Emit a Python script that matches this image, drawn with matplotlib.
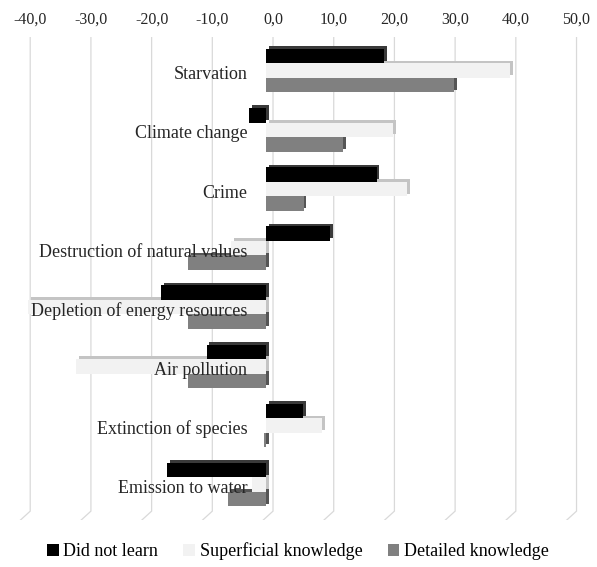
import numpy as np
import matplotlib.pyplot as plt
from matplotlib.patches import Patch

plt.rcParams.update({"font.family": ["Liberation Serif", "DejaVu Serif"]})

categories = [
    "Starvation",
    "Climate change",
    "Crime",
    "Destruction of natural values",
    "Depletion of energy resources",
    "Air pollution",
    "Extinction of species",
    "Emission to water",
]
did_not_learn = [19.4, -2.8, 18.2, 10.5, -17.3, -9.8, 6.1, -16.3]
superficial = [40.2, 20.9, 23.3, -5.8, -39.2, -31.3, 9.2, -2.3]
detailed = [31.0, 12.7, 6.2, -12.8, -12.8, -12.8, -0.4, -6.3]
ticks = np.arange(-40, 51, 10)

series = [
    ("Did not learn", did_not_learn, "#000000", "#3a3a3a"),
    ("Superficial knowledge", superficial, "#f2f2f2", "#c4c4c4"),
    ("Detailed knowledge", detailed, "#808080", "#555555"),
]

W, H = 597, 567
fig = plt.figure(figsize=(W / 100, H / 100), dpi=100)
ax = fig.add_axes([8 / W, 1 - 520 / H, (590 - 8) / W, (520 - 37) / H])

ax.set_xlim(-43.66, 52.22)
ax.set_ylim(7.6, -0.57)

y = np.arange(len(categories))
h = 0.245
front = -1.15          # front faces sit a little in front of the back wall
dx, dy = 0.45, 0.045   # visible depth faces
for k, (name, vals, face, side) in enumerate(series):
    yk = y + (k - 1) * h
    vals = np.array(vals)
    ax.barh(yk - dy, vals, height=h, left=front + dx, color=side, zorder=2)
    ax.barh(yk, vals, height=h, left=front, color=face, zorder=3)

for i, c in enumerate(categories):
    ax.text(front - 3.1, i + 0.07, c, ha="right", va="center", fontsize=13,
            color="#262626", zorder=5)

ax.set_xticks(ticks)
ax.set_xticklabels([f"{t:.1f}".replace(".", ",") for t in ticks],
                   fontsize=11.5, color="#262626")
ax.xaxis.tick_top()
ax.tick_params(axis="x", length=0, pad=7)
ax.set_yticks([])
for t in ticks:
    ax.plot([t, t, t - 1.6], [-0.57, 7.45, 7.6], color="#d9d9d9",
            linewidth=0.9, zorder=0, solid_joinstyle="miter")
for s in ax.spines.values():
    s.set_visible(False)

handles = [Patch(facecolor=f, edgecolor="none", label=n) for n, _, f, _ in series]
fig.legend(handles=handles, loc="center", bbox_to_anchor=(0.499, 1 - 551 / H),
           ncol=3, frameon=False, fontsize=13, handlelength=0.65,
           handleheight=0.65, handletextpad=0.25, columnspacing=1.4)

fig.savefig("out.png", dpi=100)
